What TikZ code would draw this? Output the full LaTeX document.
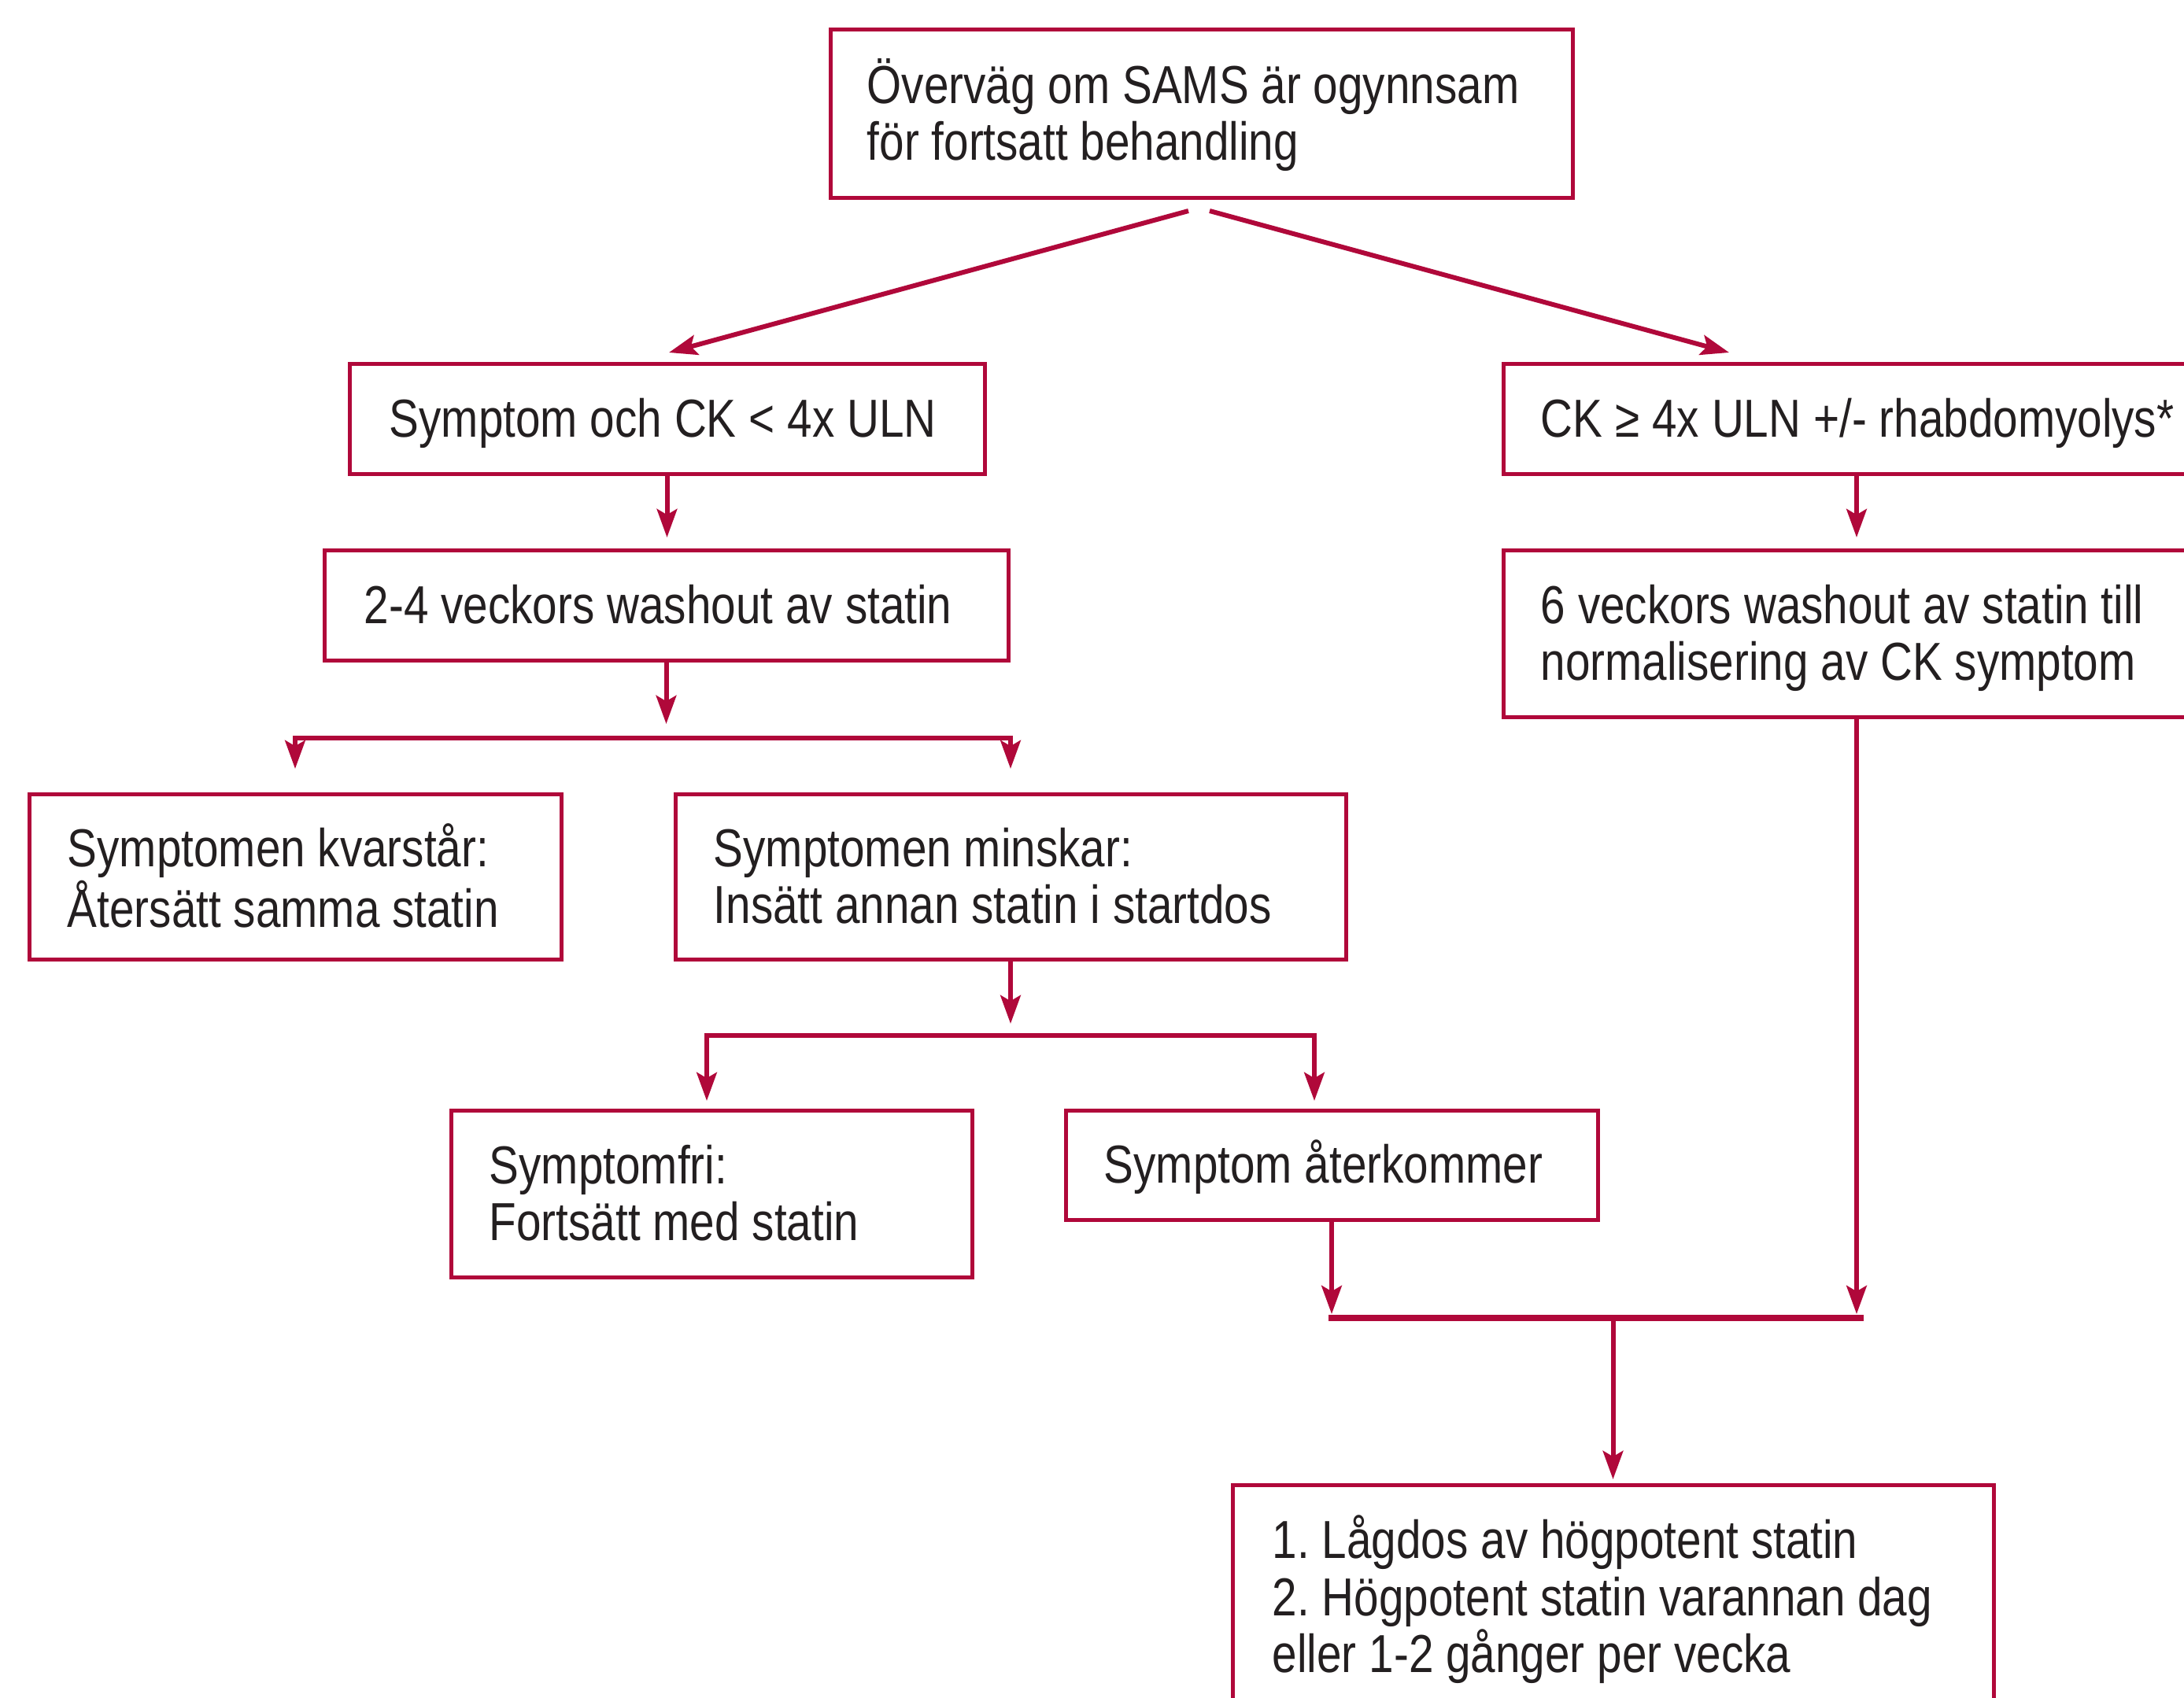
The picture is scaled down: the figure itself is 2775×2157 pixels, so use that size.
\documentclass[tikz,border=0pt]{standalone}
\usepackage{fontspec}
\setmainfont{Liberation Sans}[FakeStretch=0.833]
\usetikzlibrary{arrows.meta,calc}
\definecolor{crim}{HTML}{B0083A}
\definecolor{ink}{HTML}{231F20}
\newcommand\flowbox[5]{\node[box,minimum width={(#4-#2)*0.25pt},minimum height={(#5-#3)*0.25pt}] (#1) at ({(#2+#4)/2},{(#3+#5)/2}) {};}
\newcommand\boxfont{\fontsize{17pt}{18.125pt}\selectfont}
\frenchspacing
\begin{document}
\begin{tikzpicture}[x=0.25pt,y=-0.25pt,
  box/.style={draw=crim,line width=1.25pt,rectangle,inner sep=0pt,outer sep=0pt},
  txt/.style={anchor=west,inner sep=0pt,text=ink,font=\boxfont,text width=250pt,align=left,text height=11.7pt,
    execute at begin node={\spaceskip=3.97pt plus 1pt minus 0.5pt\xspaceskip=3.97pt plus 1pt minus 0.5pt}},
  onel/.style={txt,text depth=0pt},
  twol/.style={txt,text depth=18.125pt},
  threel/.style={txt,text depth=36.25pt},
  arr/.style={draw=crim,line width=1.5pt,-{Stealth[length=9pt,width=6.4pt,inset=1.8pt]}},
  arrboth/.style={draw=crim,line width=1.5pt,line join=miter,{Stealth[length=9pt,width=6.4pt,inset=1.8pt]}-{Stealth[length=9pt,width=6.4pt,inset=1.8pt]}},
  bar/.style={draw=crim,line width=1.9pt}]
\useasboundingbox (0,0) rectangle (2775,2157);
\fill[white] (0,0) rectangle (2775,2157);
\clip (0,0) rectangle (2775,2157);

% boxes
\flowbox{top}{1055}{37}{1998}{251}
\flowbox{sym}{444}{462}{1251}{602}
\flowbox{ck}{1910}{462}{2808}{602}
\flowbox{washa}{412}{699}{1281}{839}
\flowbox{washb}{1910}{699}{2808}{911}
\flowbox{kv}{37}{1009}{713}{1219}
\flowbox{mi}{858}{1009}{1710}{1219}
\flowbox{fri}{573}{1411}{1235}{1623}
\flowbox{ater}{1354}{1411}{2030}{1550}
\flowbox{final}{1566}{1887}{2533}{2260}

% texts
\node[twol] (topT) at (1101,144) {Överväg om SAMS är ogynnsam\\för fortsatt behandling};
\node[onel] (symT) at (494,532) {Symptom och CK < 4x ULN};
\node[onel] (ckT) at (1957,532) {CK ≥ 4x ULN +/- rhabdomyolys*};
\node[onel] (washaT) at (462,769) {2-4 veckors washout av statin};
\node[twol] (washbT) at (1957,805) {6 veckors washout av statin till\\normalisering av CK symptom};
\node[twol] (kvT) at (85,1114) {Symptomen kvarstår:\\Återsätt samma statin};
\node[twol] (miT) at (906,1114) {Symptomen minskar:\\Insätt annan statin i startdos};
\node[twol] (friT) at (621,1517) {Symptomfri:\\Fortsätt med statin};
\node[onel] (aterT) at (1402,1480.5) {Symptom återkommer};
\node[threel] (finalT) at (1616,2030) {1. Lågdos av högpotent statin\\2. Högpotent statin varannan dag\\eller 1-2 gånger per vecka};

% connectors
\draw[arr] ($(top.south)+(-16.5,17)$) -- ($(sym.north)+(2.5,-14)$);
\draw[arr] ($(top.south)+(10.5,17)$) -- ($(ck.north)+(-162,-14)$);
\draw[arr] (sym.south) -- ($(sym.south |- washa.north)+(0,-16)$);
\draw[arr] (ck.south) -- ($(ck.south |- washb.north)+(0,-16)$);
\draw[arr] (washa.south) -- ($(washa.south)+(0,81)$);
\draw[arrboth] ($(kv.north)+(0,-32)$) |- ($(mi.north)+(0,-71)$) -- ($(mi.north)+(0,-32)$);
\draw[arr] (mi.south) -- ($(mi.south)+(0,82)$);
\draw[arrboth] ($(fri.north)+(-6,-12)$) |- ($(ater.north)+(-22,-95)$) -- ($(ater.north)+(-22,-12)$);
\draw[arr] (ater.south) -- ($(ater.south)+(0,120)$);
\draw[arr] (washb.south) -- ($(washb.south |- ater.south)+(0,120)$);
\draw[bar] ($(ater.south)+(-4,125)$) -- ($(washb.south |- ater.south)+(9,125)$);
\draw[arr] ($(final.north)+(0,-212)$) -- ($(final.north)+(0,-7)$);
\end{tikzpicture}
\end{document}
